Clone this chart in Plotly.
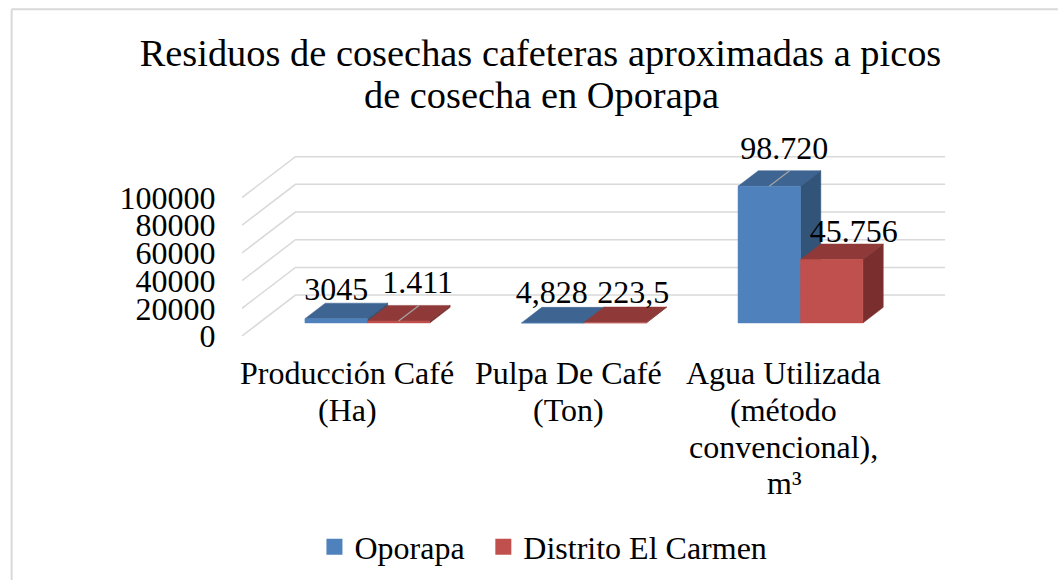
import plotly.graph_objects as go

# ---- data ----
categories = [["Producción Café", "(Ha)"], ["Pulpa De Café", "(Ton)"],
              ["Agua Utilizada", "(método", "convencional),", "m³"]]
oporapa = [3045, 4.828, 98720]
carmen = [1411, 223.5, 45756]
oporapa_labels = ["3045", "4,828", "98.720"]
carmen_labels = ["1.411", "223,5", "45.756"]
y_ticks = [0, 20000, 40000, 60000, 80000, 100000]
y_ticklabels = ["0", "20000", "40000", "60000", "80000", "100000"]
title_lines = ["Residuos de cosechas cafeteras aproximadas a picos", "de cosecha en Oporapa"]

# ---- layout constants (pixels of the 1058x581 page) ----
W, H = 1058, 581
PL, PT, PR, PB = 241.5, 140, 950, 336.5
PX_PER_CAT = 216.7
PX_PER_VAL = 138.8 / 100000
DEPTH_DX, DEPTH_DY = 53.5, 41.0   # oblique offset of the whole floor depth
BAR_FRONT, BAR_BACK = 0.32, 0.70  # bar position in depth (0 front, 1 back)
BAR_W = 0.2884                    # bar width in category units
XMAX = (PR - PL) / PX_PER_CAT
YMAX = (PB - PT) / PX_PER_VAL
NCAT = len(categories)
FONT = "Liberation Serif"
FS = 32
TITLE_FS = 38.4
GRID = "#d9d9d9"


def proj(u, d, v):
    """category position u, depth d (0..1), value v -> axis coordinates"""
    return (u + d * DEPTH_DX / PX_PER_CAT, v + d * DEPTH_DY / PX_PER_VAL)


def py(p):
    """page pixel row -> paper fraction"""
    return (PB - p) / (PB - PT)


def px(p):
    """page pixel column -> paper fraction"""
    return (p - PL) / (PR - PL)


fig = go.Figure()


def poly(pts, color, line=None):
    xs = [p[0] for p in pts] + [pts[0][0]]
    ys = [p[1] for p in pts] + [pts[0][1]]
    fig.add_trace(go.Scatter(x=xs, y=ys, mode="lines", fill="toself",
                             fillcolor=color, line=dict(color=line or color, width=0.5),
                             hoverinfo="skip", showlegend=False))


# walls
for t in y_ticks:
    a, b, c = proj(0, 0, t), proj(0, 1, t), proj(NCAT, 1, t)
    fig.add_trace(go.Scatter(x=[a[0], b[0], c[0]], y=[a[1], b[1], c[1]], mode="lines",
                             line=dict(color=GRID, width=1.5), hoverinfo="skip", showlegend=False))


def bar(u0, v, front, top, side):
    u1 = u0 + BAR_W
    poly([proj(u0, BAR_FRONT, v), proj(u1, BAR_FRONT, v), proj(u1, BAR_BACK, v), proj(u0, BAR_BACK, v)], top)
    poly([proj(u1, BAR_FRONT, 0), proj(u1, BAR_BACK, 0), proj(u1, BAR_BACK, v), proj(u1, BAR_FRONT, v)], side)
    poly([proj(u0, BAR_FRONT, 0), proj(u1, BAR_FRONT, 0), proj(u1, BAR_FRONT, v), proj(u0, BAR_FRONT, v)], front)


for i in range(NCAT):
    u0 = i + 0.5 - BAR_W
    bar(u0, oporapa[i], "#4F81BD", "#3E6491", "#325479")
    bar(i + 0.5, carmen[i], "#C0504D", "#8F3A38", "#7A2F2E")

# leader lines
LEADERS = [(0, 1, carmen), (2, 0, oporapa)]
for i, s, vals in LEADERS:
    u = i + 0.5 - BAR_W + s * BAR_W + BAR_W / 2
    a, b = proj(u, BAR_FRONT, vals[i]), proj(u, BAR_BACK, vals[i])
    fig.add_trace(go.Scatter(x=[a[0], b[0]], y=[a[1], b[1]], mode="lines",
                             line=dict(color="#a6a6a6", width=1.2), hoverinfo="skip", showlegend=False))

# data labels: offset in pixels from the centre of the bar's front-top edge
OFF_OP = [(0, 27), (-1, 28), (15, 35)]
OFF_CA = [(19, 36), (18, 28), (22, 26)]
for s, vals, labs, offs in ((0, oporapa, oporapa_labels, OFF_OP), (1, carmen, carmen_labels, OFF_CA)):
    for i in range(NCAT):
        u = i + 0.5 - BAR_W + s * BAR_W + BAR_W / 2
        x, y = proj(u, BAR_FRONT, vals[i])
        fig.add_trace(go.Scatter(x=[x + offs[i][0] / PX_PER_CAT], y=[y + offs[i][1] / PX_PER_VAL],
                                 mode="text", text=[labs[i]], textposition="middle center",
                                 textfont=dict(family=FONT, size=FS, color="black"),
                                 cliponaxis=False, hoverinfo="skip", showlegend=False))

# legend entries, one legend box each so that their spacing can follow the reference
for name, col, lg in (("Oporapa", "#4F81BD", "legend"), ("Distrito El Carmen", "#C0504D", "legend2")):
    fig.add_trace(go.Scatter(x=[None], y=[None], mode="markers", name=name, legend=lg,
                             marker=dict(symbol="square", size=16, color=col)))

# category labels, line by line under the front floor edge
CAT_SHIFT = [-3, 2, 0.5]
CAT_ROWS = [374, 411, 448, 484]
annotations = []
for i, lines in enumerate(categories):
    for row, line in zip(CAT_ROWS, lines):
        annotations.append(dict(x=i + 0.5 + CAT_SHIFT[i] / PX_PER_CAT, xref="x", y=py(row), yref="paper",
                                text=line, showarrow=False, xanchor="center", yanchor="middle",
                                font=dict(family=FONT, size=FS, color="black")))
annotations.append(dict(x=px(541), xref="paper", y=py(95), yref="paper", text=title_lines[1],
                        showarrow=False, xanchor="center", yanchor="middle",
                        font=dict(family=FONT, size=TITLE_FS, color="black")))

legend_style = dict(orientation="h", xanchor="left", xref="paper", yref="paper",
                    y=py(548), yanchor="middle",
                    font=dict(family=FONT, size=FS, color="black"), bgcolor="rgba(0,0,0,0)")

fig.update_layout(
    width=W, height=H, autosize=False,
    margin=dict(l=PL, r=W - PR, t=PT, b=H - PB, pad=0, autoexpand=False),
    paper_bgcolor="white", plot_bgcolor="white",
    font=dict(family=FONT, size=FS, color="black"),
    title=dict(text=title_lines[0], x=540.5 / W, xanchor="center", y=1 - 53 / H, yanchor="middle",
               font=dict(family=FONT, size=TITLE_FS, color="black")),
    annotations=annotations,
    xaxis=dict(range=[0, XMAX], showticklabels=False, showgrid=False, zeroline=False, showline=False,
               ticks=""),
    yaxis=dict(range=[0, YMAX], tickmode="array", tickvals=y_ticks, ticktext=y_ticklabels,
               showgrid=False, zeroline=False, showline=False,
               ticks="outside", ticklen=19, tickcolor="rgba(0,0,0,0)",
               tickfont=dict(family=FONT, size=FS, color="black")),
    legend=dict(x=px(314), **legend_style),
    legend2=dict(x=px(483), **legend_style),
    shapes=[dict(type="line", xref="paper", yref="paper",
                 x0=px(11), x1=px(W), y0=py(9), y1=py(9), line=dict(color=GRID, width=2)),
            dict(type="line", xref="paper", yref="paper",
                 x0=px(11), x1=px(11), y0=py(9), y1=py(H), line=dict(color=GRID, width=2))],
)

fig.write_html("out.html", config={"displayModeBar": False},
               post_script="document.body.style.margin='0';document.body.style.overflow='hidden';")
